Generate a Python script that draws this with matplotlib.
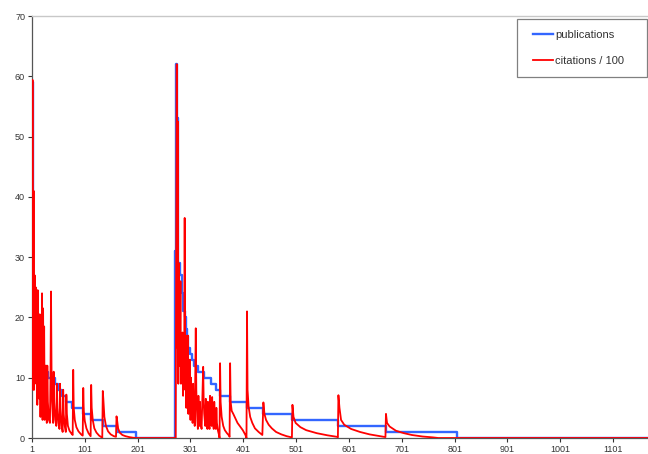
#!/bin/python3
# -*- coding: utf-8 -*-
"""
Publications and citations per position, reproduced as a static chart.
"""

#################################################
#     Libraries
#################################################
import matplotlib
matplotlib.use( "Agg" )
import matplotlib.pyplot as plt
from matplotlib.patches import Rectangle

#################################################
#     Data
#################################################
x_last = 1167

# publications: step starts and the value held from that point on
pub_x = [ 1, 2, 3, 5, 7, 10, 14, 18, 21, 25, 32, 44, 50, 58, 65, 77, 98, 113, 135, 161, 197,
          272, 274, 276, 278, 281, 284, 287, 290, 292, 294, 297, 300, 304, 308, 315, 326, 340,
          350, 357, 376, 408, 439, 494, 581, 671, 806, x_last ]
pub_y = [ 59, 27, 24, 20, 17, 16, 14, 13, 12, 11, 10, 9, 8, 7, 6, 5, 4, 3, 2, 1, 0,
          31, 62, 53, 29, 27, 24, 21, 20, 18, 17, 15, 14, 13, 12, 11, 10, 9,
          8, 7, 6, 5, 4, 3, 2, 1, 0, 0 ]

# citations / 100, first group (positions 1 - 200)
cit1_x = [ 1, 2, 3, 4, 5, 6, 7, 8, 9, 10, 11, 12, 13, 14, 15, 16, 17, 18, 19, 20,
           21, 22, 23, 24, 25, 26, 27, 28, 29, 30, 31, 33, 35, 36, 37, 38, 39, 41, 42, 43,
           45, 47, 48, 49, 51, 53, 54, 55, 57, 59, 60, 61, 63, 65, 66, 67, 69, 72, 76, 78,
           79, 80, 82, 85, 89, 94, 97, 98, 99, 101, 104, 108, 112, 113, 114, 116, 119, 123, 128, 133,
           134, 135, 136, 138, 141, 145, 150, 156, 160, 161, 162, 164, 167, 172, 178, 185, 192, 198 ]
cit1_y = [ 14, 59.4, 8, 41, 8, 27, 13, 25, 9, 24.5, 5.5, 24.5, 17, 20.5, 6.5, 20.5, 3.5, 15, 6.5, 24,
           3, 21.5, 6.5, 18.5, 3, 12, 6, 12, 2.5, 12, 6, 3, 2.5, 10, 24.3, 11, 6, 2.5, 11, 6,
           3, 2, 9, 5, 2.5, 1.5, 9, 5, 2, 1, 8, 4, 2, 1, 7.2, 4, 2, 1.2, 0.7, 0.5,
           11.3, 5, 3, 1.8, 1.1, 0.6, 0.4, 8.3, 4.5, 2.8, 1.6, 0.8, 0.3, 8.8, 5, 3, 1.6, 0.9, 0.4, 0.1,
           0, 7.8, 6.5, 3.5, 2, 1.1, 0.6, 0.3, 0.2, 3.6, 3, 1.6, 0.9, 0.5, 0.3, 0.15, 0.05, 0 ]

# citations / 100, second group (positions 272 onwards)
cit2_x = [ 272, 273, 274, 275, 276, 277, 278, 279, 280, 281, 282, 283, 284, 285, 286, 287, 288, 289, 290, 291,
           292, 293, 294, 295, 296, 297, 298, 299, 300, 301, 302, 303, 304, 305, 306, 307, 308, 309, 310, 311,
           312, 313, 314, 315, 316, 317, 318, 319, 320, 322, 323, 325, 326, 327, 329, 330, 331, 333, 334, 335,
           337, 338, 339, 341, 342, 343, 345, 346, 347, 349, 350, 351, 353, 355, 356, 357, 358, 360, 363, 366,
           370, 374, 375, 376, 377, 379, 382, 390, 400, 405, 407, 408, 409, 411, 414, 418, 423, 430, 437, 439,
           441, 444, 449, 455, 463, 473, 483, 493, 494, 496, 500, 509, 520, 540, 560, 578, 580, 581, 583, 586,
           592, 605, 622, 640, 660, 670, 671, 673, 678, 690, 705, 720, 740, 760, 770, x_last ]
cit2_y = [ 0, 0, 31, 62, 15, 52.5, 9, 29, 12, 15, 26, 9, 17, 11, 17.5, 7, 17, 9, 36.5, 8,
           17, 5, 16, 9, 17, 4, 12, 6, 13, 3, 10, 5, 7, 2.5, 9, 4, 6, 2, 10, 18.2,
           8, 5, 3, 1.5, 7, 3.5, 2, 6, 2.5, 1.5, 5, 11.8, 6, 4, 2, 6.5, 3, 1.5, 6, 3,
           1.5, 7, 4, 2, 6.8, 3, 1.5, 6, 3, 1.5, 5, 2.5, 1.2, 0.5, 0, 12.4, 6, 3.5, 2, 1.3,
           0.8, 0.4, 0.2, 12.4, 6, 4.5, 4, 2.5, 1.3, 0.5, 0, 21, 8, 5.2, 3.5, 2.5, 1.6, 1, 0.5, 5.9,
           4, 3, 2.2, 1.6, 1, 0.6, 0.3, 0.1, 5.5, 3.5, 2.5, 1.8, 1.3, 0.8, 0.45, 0.2, 0.1, 7.1, 5, 3,
           2.2, 1.5, 1, 0.6, 0.3, 0.15, 4, 2.5, 1.9, 1.2, 0.8, 0.5, 0.25, 0.1, 0, 0 ]

# the gap between both groups is empty (zero citations)
cit_x = cit1_x + cit2_x
cit_y = cit1_y + cit2_y

x_ticks = [ 1, 101, 201, 301, 401, 501, 601, 701, 801, 901, 1001, 1101 ]
y_ticks = [ 0, 10, 20, 30, 40, 50, 60, 70 ]

#################################################
#     Figure
#################################################
plt.rcParams[ "font.family" ] = [ "Liberation Sans", "DejaVu Sans" ]

fig = plt.figure( figsize = ( 6.48, 4.54 ), dpi = 100 )
ax = fig.add_axes( [ 32 / 648, 16 / 454, 616 / 648, 422 / 454 ] )

ax.plot( pub_x, pub_y, drawstyle = "steps-post", color = "#3366ff", lw = 1.7, label = "publications", zorder = 2 )
ax.plot( cit_x, cit_y, color = "#ff0000", lw = 1.3, label = "citations / 100", zorder = 3 )

ax.set_xlim( 1, x_last )
ax.set_ylim( 0, 70 )
ax.set_xticks( x_ticks )
ax.set_xticklabels( [ str( t ) for t in x_ticks ] )
ax.set_yticks( y_ticks )

ax.tick_params( axis = "both", direction = "out", length = 3, width = 0.8, labelsize = 6.5,
                colors = "#333333", pad = 2 )

for side in [ "left", "bottom" ]:
    ax.spines[ side ].set_color( "#555555" )
    ax.spines[ side ].set_linewidth( 0.9 )
ax.spines[ "top" ].set_color( "#c8c8c8" )
ax.spines[ "top" ].set_linewidth( 1.0 )
ax.spines[ "right" ].set_visible( False )

# Legend box drawn by hand so the padding matches
box = Rectangle( ( 516.7 / 648, 1 - 76.7 / 454 ), 130 / 648, 57.4 / 454,
                 transform = fig.transFigure, facecolor = "white",
                 edgecolor = "#808080", lw = 0.9, zorder = 5, clip_on = False )
ax.add_patch( box )
leg = ax.legend( loc = "center left", bbox_to_anchor = ( 533 / 648, 1 - 47.9 / 454 ),
                 bbox_transform = fig.transFigure, frameon = False, fontsize = 8,
                 handlelength = 1.8, handletextpad = 0.2, labelspacing = 1.4,
                 borderpad = 0, borderaxespad = 0 )
leg.set_zorder( 6 )
for txt in leg.get_texts():
    txt.set_color( "#333333" )

fig.savefig( "out.png", dpi = 100 )
